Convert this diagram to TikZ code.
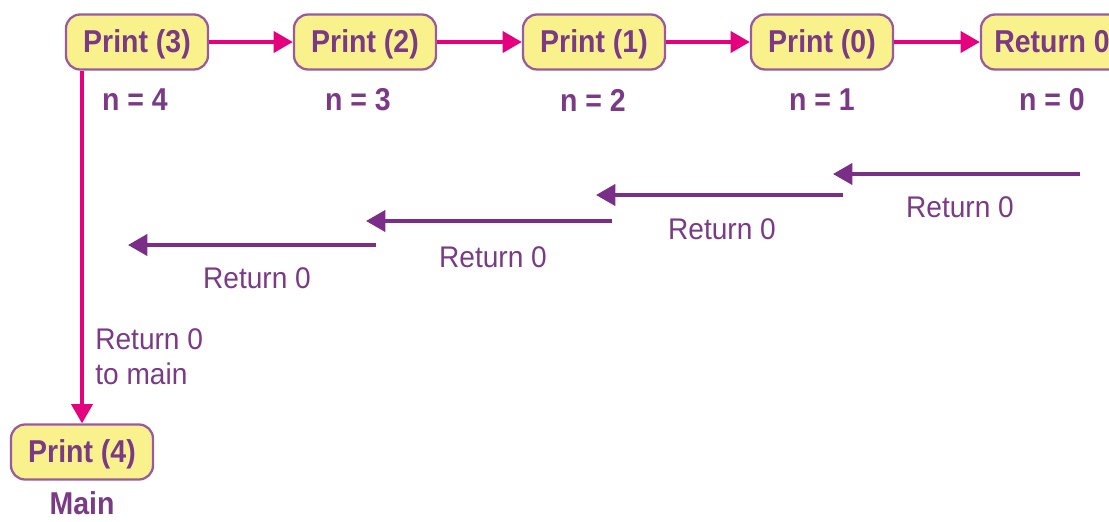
\documentclass[tikz,border=0pt]{standalone}
\usepackage{fontspec}
\setmainfont{Liberation Sans}
\newfontfamily\condfont[FakeStretch=0.9]{Liberation Sans}
\newfontfamily\lightfont[FakeStretch=0.94]{Liberation Sans}
\usetikzlibrary{arrows.meta}
\definecolor{boxfill}{HTML}{F9F28C}
\definecolor{boxline}{HTML}{9A5B9E}
\definecolor{txtpurple}{HTML}{7A3A86}
\definecolor{callpink}{HTML}{E5007D}
\definecolor{retpurple}{HTML}{7B2E88}
\tikzset{
  callbox/.style={draw=boxline, line width=1.3pt, fill=boxfill, rounded corners=8pt,
    minimum width=142*0.02cm, minimum height=55*0.02cm, inner sep=0pt,
    text height=12pt, text depth=0pt,
    text=txtpurple, font=\condfont\bfseries\fontsize{18}{20}\selectfont},
  nlabel/.style={text=txtpurple, font=\condfont\bfseries\fontsize{18}{20}\selectfont, inner sep=0pt},
  retlabel/.style={text=txtpurple, font=\lightfont\fontsize{17}{20}\selectfont, inner sep=0pt},
  callarrow/.style={draw=callpink, line width=2.2pt, -{Triangle[length=11pt,width=12pt]}},
  retarrow/.style={draw=retpurple, line width=2.2pt, -{Triangle[length=11pt,width=12pt]}},
}
\begin{document}
\begin{tikzpicture}[x=0.02cm, y=-0.02cm]
\useasboundingbox (0,0) rectangle (1109,521);
% call chain
\node[callbox] (p3) at (137,42) {Print (3)};
\node[callbox] (p2) at (365,42) {Print (2)};
\node[callbox] (p1) at (594,42) {Print (1)};
\node[callbox] (p0) at (822,42) {Print (0)};
\node[callbox] (r0) at (1052,42) {Return 0};
\node[callbox] (p4) at (82,452) {Print (4)};
% argument values
\node[nlabel] (n4) at (135,100) {n = 4};
\node[nlabel] (n3) at (358,100) {n = 3};
\node[nlabel] (n2) at (593,100) {n = 2};
\node[nlabel] (n1) at (822,100) {n = 1};
\node[nlabel] (n0) at (1052,100) {n = 0};
\node[nlabel] (mainlbl) at (82,503) {Main};
% calls
\draw[callarrow] (p3) -- (p2);
\draw[callarrow] (p2) -- (p1);
\draw[callarrow] (p1) -- (p0);
\draw[callarrow] (p0) -- (r0);
\draw[callarrow] (p3.south -| p4.north) -- (p4.north);
\node[retlabel, align=left, anchor=north west] (tomain) at (95,328) {Return 0\\to main};
% returns
\coordinate (a1s) at (1080,174); \coordinate (a1e) at (833,174);
\coordinate (a2s) at (843,195);  \coordinate (a2e) at (596,195);
\coordinate (a3s) at (612,221);  \coordinate (a3e) at (366,221);
\coordinate (a4s) at (376,245);  \coordinate (a4e) at (128,245);
\draw[retarrow] (a1s) -- (a1e);
\draw[retarrow] (a2s) -- (a2e);
\draw[retarrow] (a3s) -- (a3e);
\draw[retarrow] (a4s) -- (a4e);
\node[retlabel] (l1) at (960,207) {Return 0};
\node[retlabel] (l2) at (722,229) {Return 0};
\node[retlabel] (l3) at (493,257) {Return 0};
\node[retlabel] (l4) at (257,278) {Return 0};
\end{tikzpicture}
\end{document}
